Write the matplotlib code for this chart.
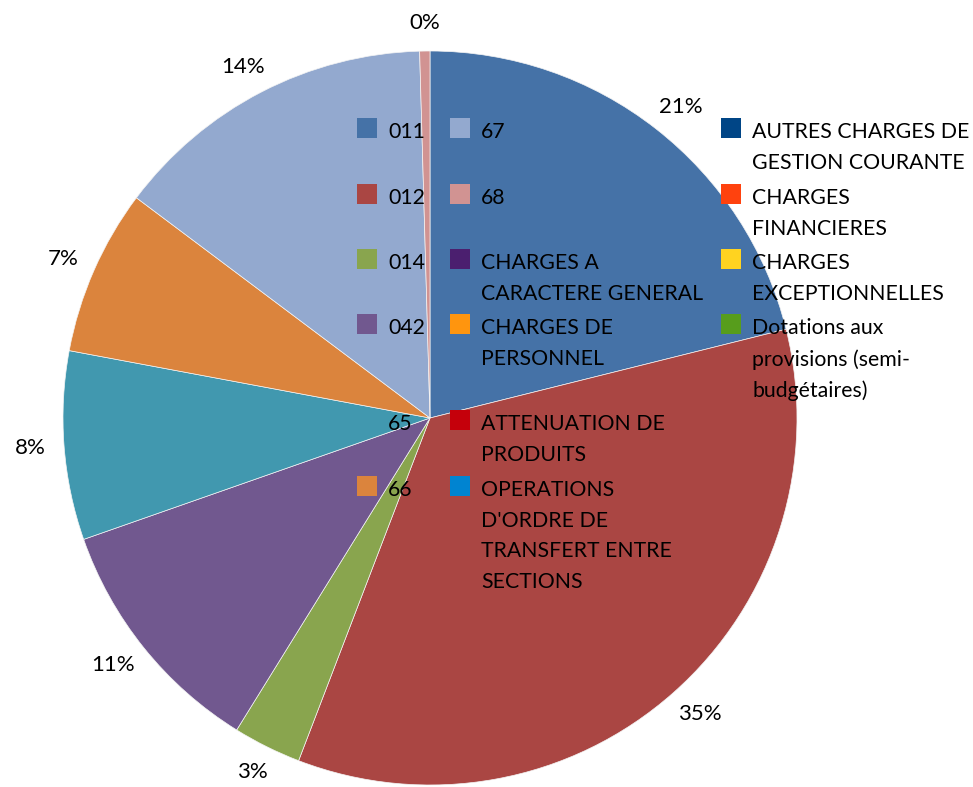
import numpy as np
import matplotlib.pyplot as plt
from matplotlib.patches import Rectangle

# --- données (parts en %) ---
codes = ['011', '012', '014', '042', '65', '66', '67', '68']
parts = [21.1, 34.7, 3.0, 10.8, 8.3, 7.3, 14.3, 0.45]
couleurs = ['#4572A7', '#AA4643', '#89A54E', '#71588F',
            '#4198AF', '#DB843D', '#93A9CF', '#D19392']

# catégories de la légende sans part visible
libelles_vides = ['CHARGES A\nCARACTERE GENERAL', 'CHARGES DE\nPERSONNEL',
                  'ATTENUATION DE\nPRODUITS',
                  "OPERATIONS\nD'ORDRE DE\nTRANSFERT ENTRE\nSECTIONS",
                  'AUTRES CHARGES DE\nGESTION COURANTE', 'CHARGES\nFINANCIERES',
                  'CHARGES\nEXCEPTIONNELLES',
                  'Dotations aux\nprovisions (semi-\nbudgétaires)']
couleurs_vides = ['#4B1F6F', '#FF950E', '#C5000B', '#0084D1',
                  '#004586', '#FF420E', '#FFD320', '#579D1C']

plt.rcParams['font.family'] = ['Lato', 'DejaVu Sans']

W, H = 973, 787
fig = plt.figure(figsize=(W / 100, H / 100), dpi=100)
ax = fig.add_axes([0, 0, 1, 1])

# centre du camembert (px) et rayon
cx, cy, R = 430, 418, 367

ax.pie(parts, colors=couleurs, startangle=90, counterclock=False,
       radius=1, center=(0, 0),
       wedgeprops=dict(edgecolor='#f4f4f4', linewidth=0.5))
ax.set_aspect('auto')
ax.set_xlim(-cx / R, (W - cx) / R)
ax.set_ylim(-(H - cy) / R, cy / R)
ax.axis('off')

# --- étiquettes de pourcentage ---
total = sum(parts)
cumul = np.cumsum(parts) - np.array(parts) / 2
fig.canvas.draw()
renderer = fig.canvas.get_renderer()
ecart = 18 / R
for s, c in zip(parts, cumul):
    theta = np.deg2rad(90 - 360 * c / total)
    ux, uy = np.cos(theta), np.sin(theta)
    t = ax.text(0, 0, f"{round(s):.0f}%", ha='center', va='center', fontsize=16)
    bb = t.get_window_extent(renderer)
    w, h = bb.width / R, bb.height / R
    t.set_position(((1 + ecart) * ux + ux * w / 2, (1 + ecart) * uy + uy * h / 2))

# --- légende (grille 3 colonnes, remplie par colonne) ---
entrees = list(zip(codes, couleurs)) + list(zip(libelles_vides, couleurs_vides))
col_marque = [357, 450, 721]
col_texte = [388, 481, 752]
lignes = [118, 184, 249, 314, 410, 476]

def px(x, y):
    return x / W, 1 - y / H

for i, (lab, col) in enumerate(entrees):
    c, r = i // 6, i % 6
    x0, y0 = px(col_marque[c], lignes[r] + 20)
    fig.patches.append(Rectangle((x0, y0), 20 / W, 20 / H, facecolor=col,
                                 edgecolor='none', transform=fig.transFigure))
    xt, yt = px(col_texte[c], lignes[r] + 4)
    fig.text(xt, yt, lab, ha='left', va='top', fontsize=15.3, linespacing=1.67)

fig.savefig('out.png', dpi=100)
